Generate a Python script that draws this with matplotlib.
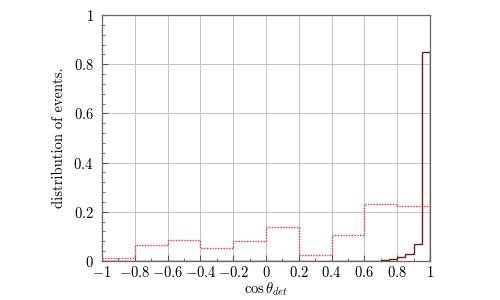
import matplotlib
matplotlib.use("Agg")
import matplotlib.pyplot as plt
from matplotlib.ticker import MultipleLocator, FuncFormatter

# coarse histogram (dotted red), bins of width 0.2
coarse_edges = [-1.0, -0.8, -0.6, -0.4, -0.2, 0.0, 0.2, 0.4, 0.6, 0.8, 1.0]
coarse_vals = [0.013, 0.065, 0.085, 0.053, 0.080, 0.138, 0.025, 0.105, 0.230, 0.225]

# fine histogram (solid dark red), bins of width 0.05 near cos = 1
fine_edges = [-1.0, 0.4, 0.7, 0.75, 0.8, 0.85, 0.9, 0.95, 1.0]
fine_vals = [0.0, 0.0015, 0.004, 0.008, 0.016, 0.028, 0.070, 0.850]

plt.rcParams["mathtext.fontset"] = "cm"
plt.rcParams["font.family"] = "serif"
plt.rcParams["font.serif"] = ["cmr10"]
plt.rcParams["axes.formatter.use_mathtext"] = True

fig = plt.figure(figsize=(5, 3), dpi=100)
ax = fig.add_axes([0.204, 0.13, 0.656, 0.82])

ax.stairs(coarse_vals, coarse_edges, color="#ee3333", lw=1.0, ls=(0, (1, 1)), zorder=3)
ax.stairs(fine_vals, fine_edges, color="#6e1f1f", lw=1.0, zorder=4)

ax.set_xlim(-1, 1)
ax.set_ylim(0, 1)
ax.xaxis.set_major_locator(MultipleLocator(0.2))
ax.xaxis.set_minor_locator(MultipleLocator(0.1))
ax.yaxis.set_major_locator(MultipleLocator(0.2))
ax.yaxis.set_minor_locator(MultipleLocator(0.04))


def fmt(v, pos):
    if abs(v) < 1e-9:
        return "$0$"
    s = ("%.1f" % v).rstrip("0").rstrip(".")
    return "$" + s + "$"


ax.xaxis.set_major_formatter(FuncFormatter(fmt))
ax.yaxis.set_major_formatter(FuncFormatter(fmt))
ax.tick_params(which="both", direction="in", labelsize=10.5, color="#555555")
ax.tick_params(axis="x", pad=3)
ax.tick_params(axis="y", pad=6)
ax.tick_params(which="major", length=4)
ax.tick_params(which="minor", length=2.5)
ax.grid(True, which="major", color="#c4c4c4", lw=0.7)
for sp in ax.spines.values():
    sp.set_color("#666666")
    sp.set_linewidth(0.9)

ax.set_xlabel(r"$\cos\theta_{det}$", fontsize=10.5, labelpad=0)
ax.set_ylabel("distribution of events.", fontsize=10.5, labelpad=5)

fig.savefig("out.png", dpi=100)
